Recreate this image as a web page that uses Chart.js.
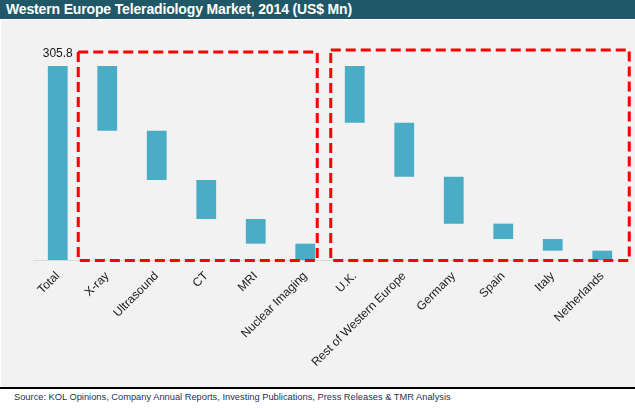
<!DOCTYPE html>
<html>
<head>
<meta charset="utf-8">
<script src="https://cdn.jsdelivr.net/npm/chart.js@4/dist/chart.umd.min.js"></script>
<style>
  html, body { margin: 0; padding: 0; background: #fff; }
  body { width: 635px; height: 409px; position: relative; overflow: hidden; font-family: Arial, "Liberation Sans", sans-serif; }
  #header { position: absolute; left: 0; top: 0; width: 635px; height: 19px; background: #215867; color: #fff;
    font-weight: bold; font-size: 14px; line-height: 19px; padding-left: 6px; box-sizing: border-box; letter-spacing: -0.15px; }
  #panel { position: absolute; left: 1px; top: 20px; width: 634px; height: 367px; background: #f2f2f2; }
  #rule { position: absolute; left: 0; top: 387px; width: 635px; height: 2px; background: #000; }
  #source { position: absolute; left: 14px; top: 392px; font-size: 9.3px; color: #1f3050; white-space: nowrap; }
  #wrap { position: absolute; left: 0; top: 20px; width: 635px; height: 367px; }
</style>
</head>
<body>
<div id="header">Western Europe Teleradiology Market, 2014 (US$ Mn)</div>
<div id="panel"></div>
<div id="wrap"><canvas id="chart"></canvas></div>
<div id="rule"></div>
<div id="source">Source: KOL Opinions, Company Annual Reports, Investing Publications, Press Releases &amp; TMR Analysis</div>
<script>
const total = 305.8
const modalities = ["X-ray", "Ultrasound", "CT", "MRI", "Nuclear Imaging"]
const modalityValues = [102.0, 77.7, 61.5, 38.9, 25.7]
const countries = ["U.K.", "Rest of Western Europe", "Germany", "Spain", "Italy", "Netherlands"]
const countryValues = [89.3, 85.1, 74.1, 24.2, 18.4, 14.7]

const categories = ["Total"].concat(modalities, countries)

// floating bars: each segment hangs down from the running remainder
function steps(values) {
  let top = total
  return values.map((v) => {
    const seg = [top - v, top]
    top -= v
    return seg
  })
}
const ranges = [[0, total]].concat(steps(modalityValues), steps(countryValues))

// dashed boxes around the two breakdowns (category index range + padding in px)
const groups = [
  { from: 1, to: modalities.length, padL: 29, padR: 12, top: 328 },
  { from: modalities.length + 1, to: categories.length - 1, padL: 24, padR: 27, top: 331 },
]

const boxPlugin = {
  id: "boxes",
  afterDatasetsDraw(chart) {
    const { ctx, scales } = chart
    const x = scales.x, y = scales.y
    ctx.save()
    ctx.strokeStyle = "#ff0000"
    ctx.lineWidth = 3
    ctx.setLineDash([10, 5])
    groups.forEach((g) => {
      const left = x.getPixelForValue(g.from) - g.padL
      const right = x.getPixelForValue(g.to) + g.padR
      const top = y.getPixelForValue(g.top)
      const bottom = y.getPixelForValue(0) + 0.5
      ctx.strokeRect(left, top, right - left, bottom - top)
    })
    ctx.restore()
  },
}

const totalLabel = {
  id: "totalLabel",
  afterDatasetsDraw(chart) {
    const bar = chart.getDatasetMeta(0).data[0]
    const ctx = chart.ctx
    ctx.save()
    ctx.font = "12px Arial, 'Liberation Sans', sans-serif"
    ctx.fillStyle = "#1a1a1a"
    ctx.textAlign = "center"
    ctx.textBaseline = "alphabetic"
    ctx.fillText(total.toFixed(1), bar.x, bar.y - 9)
    ctx.restore()
  },
}

new Chart(document.getElementById("chart"), {
  type: "bar",
  data: {
    labels: categories,
    datasets: [
      {
        data: ranges,
        backgroundColor: "#4bacc6",
        borderWidth: 0,
        barPercentage: 0.4,
        categoryPercentage: 1,
      },
    ],
  },
  options: {
    responsive: true,
    maintainAspectRatio: false,
    animation: false,
    layout: { padding: { left: 33, right: 8, top: 30, bottom: 0 } },
    plugins: { legend: { display: false }, tooltip: { enabled: false } },
    scales: {
      x: {
        grid: { display: false, drawTicks: false },
        border: { display: true, color: "#d9d9d9", width: 1 },
        ticks: {
          minRotation: 45,
          maxRotation: 45,
          padding: 9,
          color: "#1a1a1a",
          font: { family: "Arial, 'Liberation Sans', sans-serif", size: 12 },
          autoSkip: false,
        },
        afterFit(scale) { scale.height = 127 },
      },
      y: { display: false, min: 0, max: 331 },
    },
  },
  plugins: [boxPlugin, totalLabel],
})
</script>
</body>
</html>
